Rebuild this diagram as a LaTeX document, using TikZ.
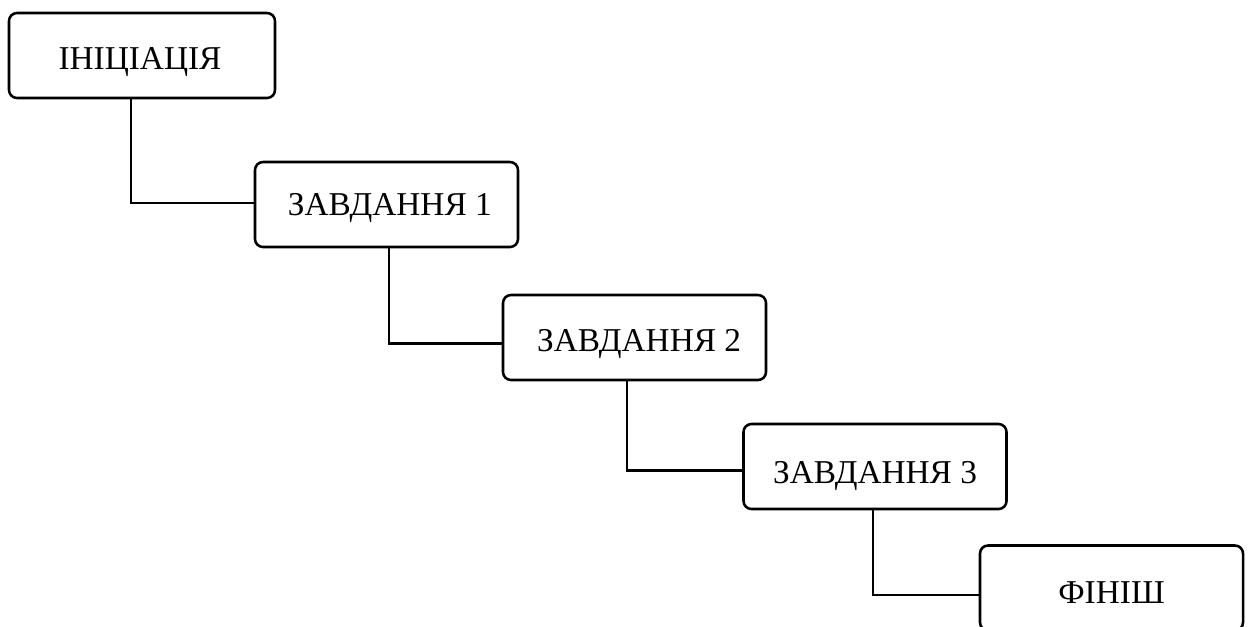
\documentclass[tikz,border=0pt]{standalone}
\usepackage{fontspec}
\setmainfont{Liberation Serif}
\begin{document}
\begin{tikzpicture}[x=0.75pt,y=-0.75pt,
  stage/.style={draw=black, line width=1.9pt, rounded corners=6pt, fill=white,
    minimum width=263*0.75pt, minimum height=85*0.75pt, inner sep=0pt,
    text height=16.5pt, text depth=0pt,
    font=\fontsize{25}{30}\selectfont},
  link/.style={draw=black, line width=1.9pt}]
\useasboundingbox (0,0) rectangle (1248,626);
\fill[white] (0,0) rectangle (1248,626);
% cascade of stages
\node[stage, minimum width=266*0.75pt] (s0) at (142,55.5) {\hspace*{-3pt}\raisebox{-2.6pt}{ІНІЦІАЦІЯ}};
\node[stage] (s1) at (386.5,204.5) {\hspace*{5pt}ЗАВДАННЯ 1};
\node[stage] (s2) at (634.5,337.5) {\hspace*{7pt}\raisebox{-2.6pt}{ЗАВДАННЯ 2}};
\node[stage] (s3) at (875,466.5) {\raisebox{-4.5pt}{ЗАВДАННЯ 3}};
\node[stage] (s4) at (1111.5,588) {\raisebox{-3pt}{ФІНІШ}};
% elbow connectors
\draw[link] ([xshift=-11*0.75pt]s0.south) |- ([yshift=1.5*0.75pt]s1.west);
\draw[link] ([xshift=2.5*0.75pt]s1.south) |- ([yshift=-6*0.75pt]s2.west);
\draw[link] ([xshift=-7.5*0.75pt]s2.south) |- ([yshift=-4*0.75pt]s3.west);
\draw[link] ([xshift=-2*0.75pt]s3.south) |- ([yshift=-7*0.75pt]s4.west);
\end{tikzpicture}
\end{document}
